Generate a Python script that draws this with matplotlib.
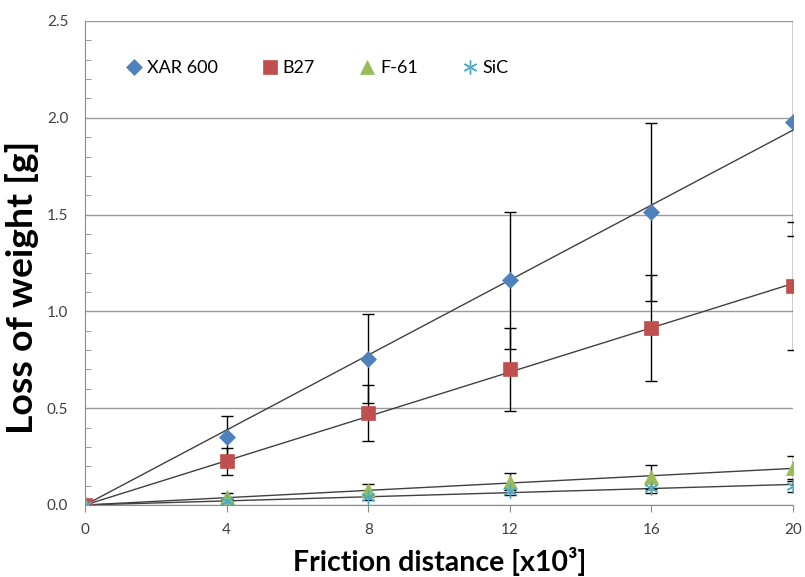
import numpy as np
import matplotlib.pyplot as plt

# friction distance (x10^3)
dist = [0, 4, 8, 12, 16, 20]

xar600 = [0, 0.35, 0.755, 1.16, 1.515, 1.98]
xar600_err = [0, 0.11, 0.23, 0.355, 0.46, 0.59]

b27 = [0, 0.225, 0.475, 0.70, 0.915, 1.13]
b27_err = [0, 0.07, 0.145, 0.215, 0.275, 0.33]

f61 = [0, 0.04, 0.075, 0.12, 0.145, 0.19]
f61_err = [0, 0.02, 0.035, 0.045, 0.06, 0.065]

sic = [0, 0.02, 0.04, 0.07, 0.09, 0.10]
sic_err = [0, 0.01, 0.015, 0.02, 0.03, 0.035]

plt.rcParams['font.family'] = ['Lato', 'DejaVu Sans']

W, H = 805, 577
fig = plt.figure(figsize=(W / 100, H / 100), dpi=100)
# plot area: x 85..793, y 21..505 px
ax = fig.add_axes([85 / W, 1 - 505 / H, 708 / W, 484 / H])

series = [
    ('XAR 600', xar600, xar600_err, '#4F81BD', 'D', 8),
    ('B27', b27, b27_err, '#C0504D', 's', 10),
    ('F-61', f61, f61_err, '#9BBB59', '^', 10),
    ('SiC', sic, sic_err, '#4BACC6', (6, 2, 0), 10),
]

x = np.array(dist, dtype=float)
for name, y, err, col, mk, ms in series:
    y = np.array(y)
    # linear trendline through origin
    k = np.sum(x * y) / np.sum(x * x)
    ax.plot(x, k * x, color='#404040', lw=1.0, zorder=2)
    ax.errorbar(x, y, yerr=err, fmt='none', ecolor='black', elinewidth=1.0,
                capsize=4, capthick=1.0, zorder=3)
    ax.plot(x, y, linestyle='none', marker=mk, color=col, markersize=ms,
            markeredgewidth=1.0 if name == 'SiC' else 0.5,
            markeredgecolor=col, label=name, zorder=4)

ax.set_xlim(0, 20)
ax.set_ylim(0, 2.5)
ax.set_xticks([0, 4, 8, 12, 16, 20])
ax.set_yticks(np.arange(0, 2.51, 0.5))
ax.set_yticklabels(['0.0', '0.5', '1.0', '1.5', '2.0', '2.5'])
ax.set_yticks(np.arange(0, 2.5, 0.1), minor=True)
ax.tick_params(axis='y', which='minor', direction='in', length=4, color='#8c8c8c')
ax.tick_params(axis='y', which='major', length=0, labelsize=11, labelcolor='#404040', pad=12)
ax.tick_params(axis='x', which='major', length=5, color='#8c8c8c', labelsize=11,
               labelcolor='#404040', pad=8)
ax.grid(axis='y', which='major', color='#9a9a9a', lw=1.0)
ax.set_axisbelow(True)
for s in ['top', 'right']:
    ax.spines[s].set_visible(False)
for s in ['left', 'bottom']:
    ax.spines[s].set_color('#8c8c8c')

# axis titles, sized to the reference widths (~294 px)
xt = fig.text(440 / W, 1 - 562 / H, 'Friction distance [x10³]', ha='center', va='center',
              fontsize=20, fontweight='bold')
yt = fig.text(22 / W, 1 - 287 / H, 'Loss of weight [g]', ha='center', va='center',
              rotation=90, fontsize=20, fontweight='bold')
r = fig.canvas.get_renderer()
for t, target in [(xt, 294), (yt, 293)]:
    bb = t.get_window_extent(renderer=r)
    size = bb.width if t is xt else bb.height
    t.set_fontsize(t.get_fontsize() * target / size)

ax.legend(loc='center left', bbox_to_anchor=(22 / 708, 1 - 47 / 484), ncol=4, frameon=False,
          fontsize=13, handletextpad=0.1, columnspacing=2.3, handlelength=1.2)

fig.savefig('out.png', dpi=100)
